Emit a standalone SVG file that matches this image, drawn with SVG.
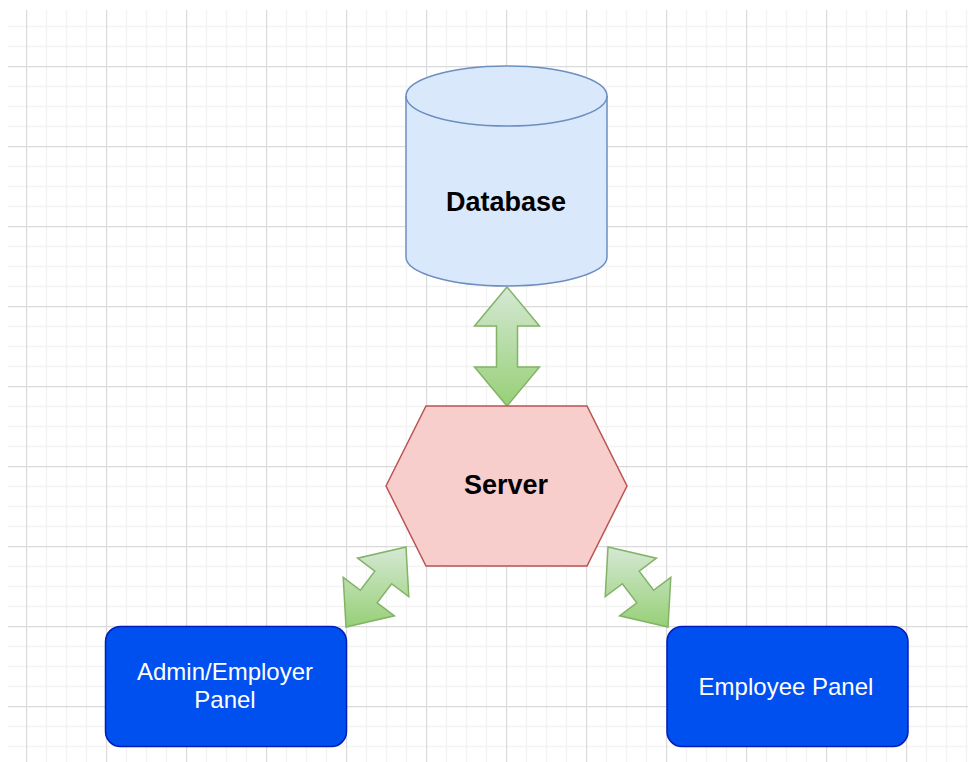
<svg xmlns="http://www.w3.org/2000/svg" width="968" height="762" viewBox="0 0 968 762">
  <style>
    .label { font-family: "Liberation Sans", Arial, sans-serif; text-anchor: middle; }
    .bold { font-weight: bold; font-size: 27px; fill: #000000; }
    .panel-text { font-size: 24px; fill: #ffffff; }
    .panel { fill: #0050ef; stroke: #001dbc; stroke-width: 1.5; }
    .link { fill: url(#greenGrad); stroke: #82b366; stroke-width: 1.5; stroke-linejoin: miter; }
  </style>
  <defs>
    <pattern id="grid" patternUnits="userSpaceOnUse" x="26" y="66" width="80" height="80">
      <path d="M20.5,0V80M40.5,0V80M60.5,0V80M0,20.5H80M0,40.5H80M0,60.5H80" stroke="#f3f3f3" stroke-width="1.4" fill="none"/>
      <path d="M0.5,0V80M0,0.5H80" stroke="#dadada" stroke-width="1.4" fill="none"/>
    </pattern>
    <linearGradient id="greenGrad" x1="0" y1="0" x2="0" y2="1">
      <stop offset="0" stop-color="#d5e8d4"/>
      <stop offset="1" stop-color="#97d077"/>
    </linearGradient>
  </defs>

  <rect width="968" height="762" fill="#ffffff"/>
  <rect x="8" y="10" width="960" height="752" fill="url(#grid)"/>

  <!-- connectors: double-headed block arrows -->
  <g id="connectors">
    <polygon class="link" points="507,287 539.5,326 517.5,326 517.5,367 539.5,367 507,406 474.5,367 496.5,367 496.5,326 474.5,326"/>
    <polygon class="link" points="406,547 408.8,596.6 391.6,583.7 377.2,602.9 394.4,615.8 346,627 343.2,577.4 360.4,590.3 374.8,571.1 357.6,558.2"/>
    <polygon class="link" points="608,547 605.2,596.6 622.4,583.7 636.8,602.9 619.6,615.8 668,627 670.8,577.4 653.6,590.3 639.2,571.1 656.4,558.2"/>
  </g>

  <g id="database">
    <path d="M406,96 A100.5,30 0 0 1 607,96 L607,257 A100.5,29 0 0 1 406,257 Z" fill="#dae8fc" stroke="#6c8ebf" stroke-width="1.5"/>
    <path d="M406,96 A100.5,30 0 0 0 607,96" fill="none" stroke="#6c8ebf" stroke-width="1.5"/>
    <text class="label bold" x="506" y="211">Database</text>
  </g>

  <g id="server">
    <polygon points="386,486 426,406 587,406 627,486 587,566 426,566" fill="#f8cecc" stroke="#b85450" stroke-width="1.5"/>
    <text class="label bold" x="506" y="494">Server</text>
  </g>

  <g id="admin-panel">
    <rect class="panel" x="105.5" y="626.5" width="241" height="120" rx="15" ry="15"/>
    <text class="label panel-text" x="225" y="680">Admin/Employer</text>
    <text class="label panel-text" x="225" y="708">Panel</text>
  </g>

  <g id="employee-panel">
    <rect class="panel" x="667" y="626.5" width="241" height="120" rx="15" ry="15"/>
    <text class="label panel-text" x="786" y="695">Employee Panel</text>
  </g>
</svg>
